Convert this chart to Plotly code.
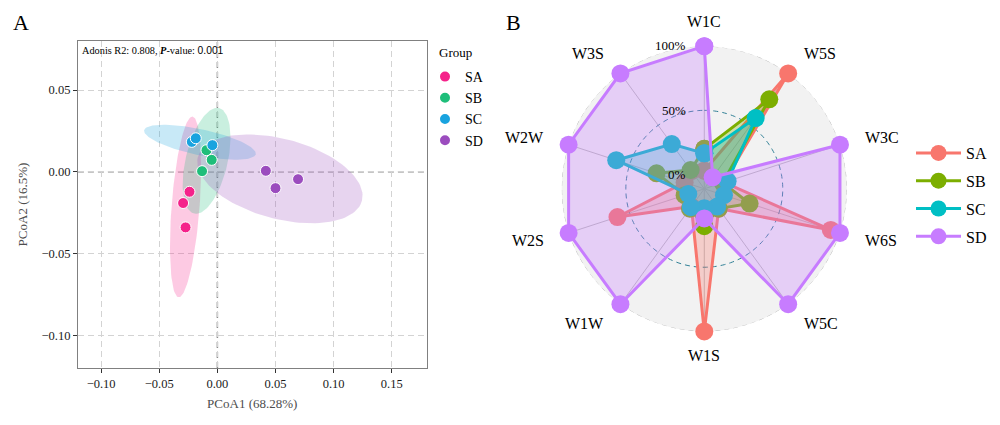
import numpy as np
import plotly.graph_objects as go

# page has an 8px body margin: the figure is drawn at (8, 8)
OFF = 8
W, H = 1000 - 2 * OFF, 425 - 2 * OFF
SERIF = "Liberation Serif, Times New Roman, serif"

# ---------------- Panel A data (PCoA) ----------------
groups = ["SA", "SB", "SC", "SD"]
pcoa_colors = ["#F5228A", "#1EBE7A", "#19A3DF", "#9B4CBE"]
pc1_SA = [-0.0240, -0.0295, -0.0274]
pc2_SA = [-0.0122, -0.0191, -0.0340]
pc1_SB = [-0.0094, -0.0049, -0.0132]
pc2_SB = [0.0132, 0.0073, 0.0004]
pc1_SC = [-0.0220, -0.0186, -0.0043]
pc2_SC = [0.0183, 0.0205, 0.0163]
pc1_SD = [0.0417, 0.0694, 0.0500]
pc2_SD = [0.0006, -0.0045, -0.0100]
xticks = [-0.10, -0.05, 0.00, 0.05, 0.10, 0.15]
yticks = [-0.10, -0.05, 0.00, 0.05]
# confidence ellipses: centre (data), semi-axes (screen px), angle (deg)
ell_cx = [-0.0274, -0.0093, -0.0150, 0.0538]
ell_cy = [-0.0215, 0.0067, 0.0181, -0.0043]
ell_a = [90.6, 54.2, 57.1, 85.0]
ell_b = [14.0, 21.0, 13.0, 40.0]
ell_ang = [85.6, 76.7, -12.1, -15.0]

# ---------------- Panel B data (radar) ----------------
radar_axes = ["W1C", "W5S", "W3C", "W6S", "W5C", "W1S", "W1W", "W2S", "W2W", "W3S"]
radar_groups = ["SA", "SB", "SC", "SD"]
radar_colors = ["#F8766D", "#7CAE00", "#00BFC4", "#C77CFF"]
SA_vals = [0.03, 1.00, 0.05, 0.925, 0.08, 1.00, 0.06, 0.60, 0.05, 0.06]
SB_vals = [0.20, 0.75, 0.04, 0.26, 0.08, 0.18, 0.08, 0.05, 0.28, 0.07]
SC_vals = [0.165, 0.57, 0.08, 0.05, 0.06, 0.04, 0.066, 0.02, 0.61, 0.32]
SD_vals = [1.00, 0.00, 1.00, 1.00, 1.00, 0.12, 1.00, 1.00, 1.00, 1.00]
grid_levels = [0.0, 0.5, 1.0]
grid_labels = ["0%", "50%", "100%"]

# ---------------- layout geometry (window pixels) ----------------
ax_l, ax_r, ax_t, ax_b = 78, 427, 41, 368
xr = [-0.12, 0.18]
yr = [-0.12, 0.08]
sx = (ax_r - ax_l) / (xr[1] - xr[0])
sy = (ax_b - ax_t) / (yr[1] - yr[0])

pc_cx, pc_cy, pc_R = 705, 188.8, 142.8
rmin = -0.111
label_R = 167


def px(x):
    return (x - OFF) / W


def py(y):
    return 1 - (y - OFF) / H


def hexrgba(h, a):
    h = h.lstrip("#")
    return f"rgba({int(h[0:2],16)},{int(h[2:4],16)},{int(h[4:6],16)},{a})"


fig = go.Figure()

# ellipses
t = np.linspace(0, 2 * np.pi, 120)
for g, col, cx, cy, a, b, ang in zip(groups, pcoa_colors, ell_cx, ell_cy, ell_a, ell_b, ell_ang):
    th = np.deg2rad(ang)
    ux = a * np.cos(t) * np.cos(th) - b * np.sin(t) * np.sin(th)
    uy = a * np.cos(t) * np.sin(th) + b * np.sin(t) * np.cos(th)
    fig.add_trace(go.Scatter(x=cx + ux / sx, y=cy + uy / sy, mode="lines", fill="toself",
                             fillcolor=hexrgba(col, 0.24), line=dict(width=0),
                             hoverinfo="skip", showlegend=False, xaxis="x", yaxis="y"))

pts = {"SA": (pc1_SA, pc2_SA), "SB": (pc1_SB, pc2_SB), "SC": (pc1_SC, pc2_SC), "SD": (pc1_SD, pc2_SD)}
for g, col in zip(groups, pcoa_colors):
    xs, ys = pts[g]
    fig.add_trace(go.Scatter(x=xs, y=ys, mode="markers", name=g, legend="legend",
                             marker=dict(size=11, color=col, line=dict(color="white", width=1)),
                             xaxis="x", yaxis="y"))

# radar reference circles
circ_theta = np.linspace(0, 360, 241)
circ_cols = ["#BEBEBE", "#2F7F95", "#BEBEBE"]
for lev, cc in zip(grid_levels, circ_cols):
    fig.add_trace(go.Scatterpolar(r=[lev] * len(circ_theta), theta=circ_theta, mode="lines",
                                  line=dict(color=cc, width=1, dash="5px,4px"),
                                  hoverinfo="skip", showlegend=False, cliponaxis=False, subplot="polar"))

angles = [i * 360 / len(radar_axes) for i in range(len(radar_axes))]
vals = {"SA": SA_vals, "SB": SB_vals, "SC": SC_vals, "SD": SD_vals}
for g, col in zip(radar_groups, radar_colors):
    v = vals[g]
    # translucent polygon fill
    fig.add_trace(go.Scatterpolar(r=v + v[:1], theta=angles + angles[:1], mode="lines",
                                  fill="toself", fillcolor=hexrgba(col, 0.3), line=dict(width=0, color=col),
                                  hoverinfo="skip", showlegend=False, cliponaxis=False, subplot="polar"))
    # outline + points
    fig.add_trace(go.Scatterpolar(r=v + v[:1], theta=angles + angles[:1], mode="lines+markers",
                                  name=g, legend="legend2", legendgroup=g,
                                  line=dict(color=col, width=3),
                                  marker=dict(size=18, color=col),
                                  cliponaxis=False, subplot="polar"))

annotations = [
    dict(text="Adonis R2: 0.808, <b><i>P</i></b>-value: <span style='font-family:Liberation Sans'>0.001</span>",
         x=px(ax_l + 2), y=py(ax_t + 9), xref="paper", yref="paper", xanchor="left", yanchor="middle",
         showarrow=False, font=dict(family=SERIF, size=10.3, color="black")),
    dict(text="A", x=px(21), y=py(22), xref="paper", yref="paper", showarrow=False,
         xanchor="center", yanchor="middle", font=dict(family=SERIF, size=22, color="black")),
    dict(text="B", x=px(514), y=py(22), xref="paper", yref="paper", showarrow=False,
         xanchor="center", yanchor="middle", font=dict(family=SERIF, size=22, color="black")),
    dict(text="Group", x=px(437), y=py(52), xref="paper", yref="paper", showarrow=False,
         xanchor="left", yanchor="middle", font=dict(family=SERIF, size=13, color="black")),
]
for lev, lab in zip(grid_levels, grid_labels):
    rpx = (lev - rmin) / (1 - rmin) * pc_R
    annotations.append(dict(text=lab, x=px(689), y=py(pc_cy - rpx), xref="paper", yref="paper",
                            xanchor="right", yanchor="middle", showarrow=False,
                            font=dict(family=SERIF, size=13, color="black")))
# radar axis labels
for lab, ang in zip(radar_axes, angles):
    s, c = np.sin(np.deg2rad(ang)), np.cos(np.deg2rad(ang))
    xa = "left" if s > 0.01 else ("right" if s < -0.01 else "center")
    annotations.append(dict(text=lab, x=px(pc_cx + label_R * s), y=py(pc_cy - label_R * c),
                            xref="paper", yref="paper", xanchor=xa, yanchor="middle", showarrow=False,
                            font=dict(family=SERIF, size=16, color="black")))

shapes = [
    dict(type="line", xref="x", yref="y domain", x0=0, x1=0, y0=0, y1=1,
         line=dict(color="#8C8C8C", width=1.5, dash="6px,4px"), layer="below"),
    dict(type="line", xref="x domain", yref="y", x0=0, x1=1, y0=0, y1=0,
         line=dict(color="#8C8C8C", width=1.5, dash="6px,4px"), layer="below"),
]

axis_common = dict(showgrid=True, gridcolor="#D3D3D3", griddash="6px,4px", gridwidth=1,
                   zeroline=False, showline=True, mirror=True, linecolor="#808080", linewidth=1,
                   ticks="outside", ticklen=4, tickcolor="#333333",
                   tickfont=dict(family=SERIF, size=12.5, color="#1a1a1a"))

fig.update_layout(
    width=W, height=H, margin=dict(l=0, r=0, t=0, b=0),
    paper_bgcolor="white", plot_bgcolor="white",
    xaxis=dict(domain=[px(ax_l), px(ax_r)], range=xr, tickvals=xticks,
               ticktext=[f"{v:.2f}".replace("-", "\u2212") for v in xticks],
               title=dict(text="PCoA1 (68.28%)", font=dict(family=SERIF, size=13, color="#4D4D4D"), standoff=8),
               **axis_common),
    yaxis=dict(domain=[py(ax_b), py(ax_t)], range=yr, tickvals=yticks,
               ticktext=[f"{v:.2f}".replace("-", "\u2212") for v in yticks],
               title=dict(text="PCoA2 (16.5%)", font=dict(family=SERIF, size=13, color="#4D4D4D"), standoff=10),
               **axis_common),
    polar=dict(
        domain=dict(x=[px(pc_cx - pc_R), px(pc_cx + pc_R)], y=[py(pc_cy + pc_R), py(pc_cy - pc_R)]),
        bgcolor="#F2F2F2",
        radialaxis=dict(range=[rmin, 1.0], showline=False, showgrid=False, showticklabels=False, ticks=""),
        angularaxis=dict(rotation=90, direction="clockwise", tickmode="array", tickvals=angles,
                         showticklabels=False, ticks="",
                         showline=False, showgrid=True, gridcolor="#BDBDBD", gridwidth=0.8),
    ),
    legend=dict(x=px(425), y=py(61), xanchor="left", yanchor="top", bgcolor="rgba(0,0,0,0)",
                font=dict(family=SERIF, size=14, color="black"), itemsizing="constant"),
    legend2=dict(x=px(912), y=py(136), xanchor="left", yanchor="top", bgcolor="rgba(0,0,0,0)",
                 font=dict(family=SERIF, size=16, color="black"), tracegroupgap=4, itemwidth=45),
    annotations=annotations,
    shapes=shapes,
    showlegend=True,
)

fig.write_html("out.html")
